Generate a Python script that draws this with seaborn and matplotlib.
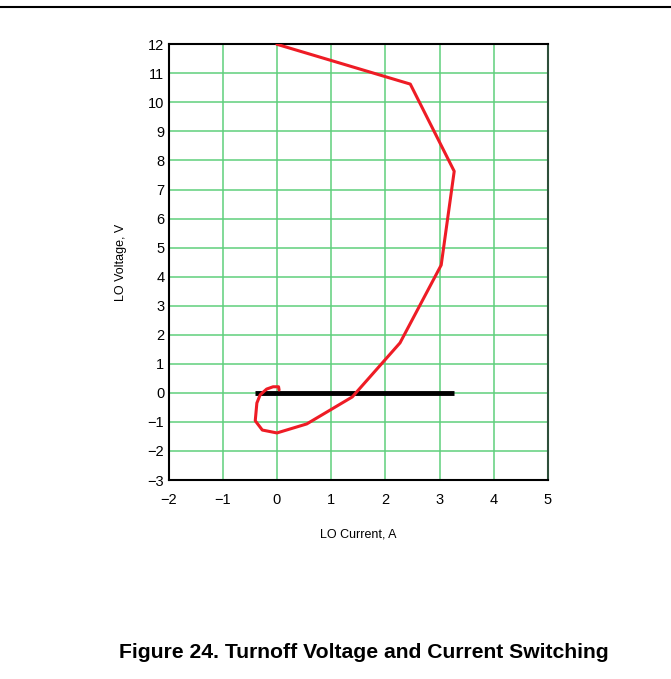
import matplotlib
matplotlib.use("Agg")
import matplotlib.pyplot as plt
from matplotlib.lines import Line2D
import seaborn as sns
import pandas as pd

# Data
current = [0.00, 2.46, 3.27, 3.03, 2.27, 1.39, 0.55, 0.00, -0.27, -0.40, -0.37, -0.31, -0.19, -0.07, 0.03, 0.04]
voltage = [12.0, 10.63, 7.63, 4.40, 1.72, -0.14, -1.07, -1.38, -1.28, -0.96, -0.35, -0.07, 0.13, 0.21, 0.21, 0.10]
zero_x = [-0.40, 3.27]
zero_y = [0.0, 0.0]
xticks = [-2, -1, 0, 1, 2, 3, 4, 5]
yticks = list(range(-3, 13))

def lab(v):
    return ("\u2212" + str(abs(v))) if v < 0 else str(v)

sns.set_theme(style="white")
plt.rcParams['font.family'] = ['Liberation Sans', 'DejaVu Sans']

fig = plt.figure(figsize=(6.71, 6.79), dpi=100)
ax = fig.add_axes([168.5/671, 1 - 480/679, (548-168.5)/671, (480-44.3)/679])

df = pd.DataFrame({"I": current, "V": voltage})
ax.plot(zero_x, zero_y, color="black", lw=3.5, solid_capstyle="butt", zorder=3)
sns.lineplot(data=df, x="I", y="V", sort=False, estimator=None, color="#ee1c25", lw=2.2, ax=ax, zorder=4)

ax.set_xlim(-2, 5)
ax.set_ylim(-3, 12)
ax.set_xticks(xticks)
ax.set_yticks(yticks)
ax.set_xticklabels([lab(v) for v in xticks], fontsize=10.5)
ax.set_yticklabels([lab(v) for v in yticks], fontsize=10.5)
ax.tick_params(axis="x", length=0, pad=9, colors="black")
ax.tick_params(axis="y", length=0, pad=3, colors="black")
ax.grid(True, color="#5fcf7c", lw=1.1)
ax.set_axisbelow(True)
for s in ["left", "bottom", "top"]:
    ax.spines[s].set_color("black")
    ax.spines[s].set_linewidth(1.5)
ax.spines["right"].set_color("#2e4f3a")
ax.spines["right"].set_linewidth(1.5)

ax.set_xlabel("LO Current, A", fontsize=9, labelpad=16, color="black")
ax.set_ylabel("LO Voltage, V", fontsize=9, labelpad=15, color="black")

fig.add_artist(Line2D([0, 1], [1 - 6.5/679, 1 - 6.5/679], color="black", lw=1.5, transform=fig.transFigure))
fig.text(364/671, 1 - 653/679, "Figure 24. Turnoff Voltage and Current Switching",
         ha="center", va="center", fontsize=15.2, fontweight="bold", color="black")

fig.savefig("out.png", dpi=100)
